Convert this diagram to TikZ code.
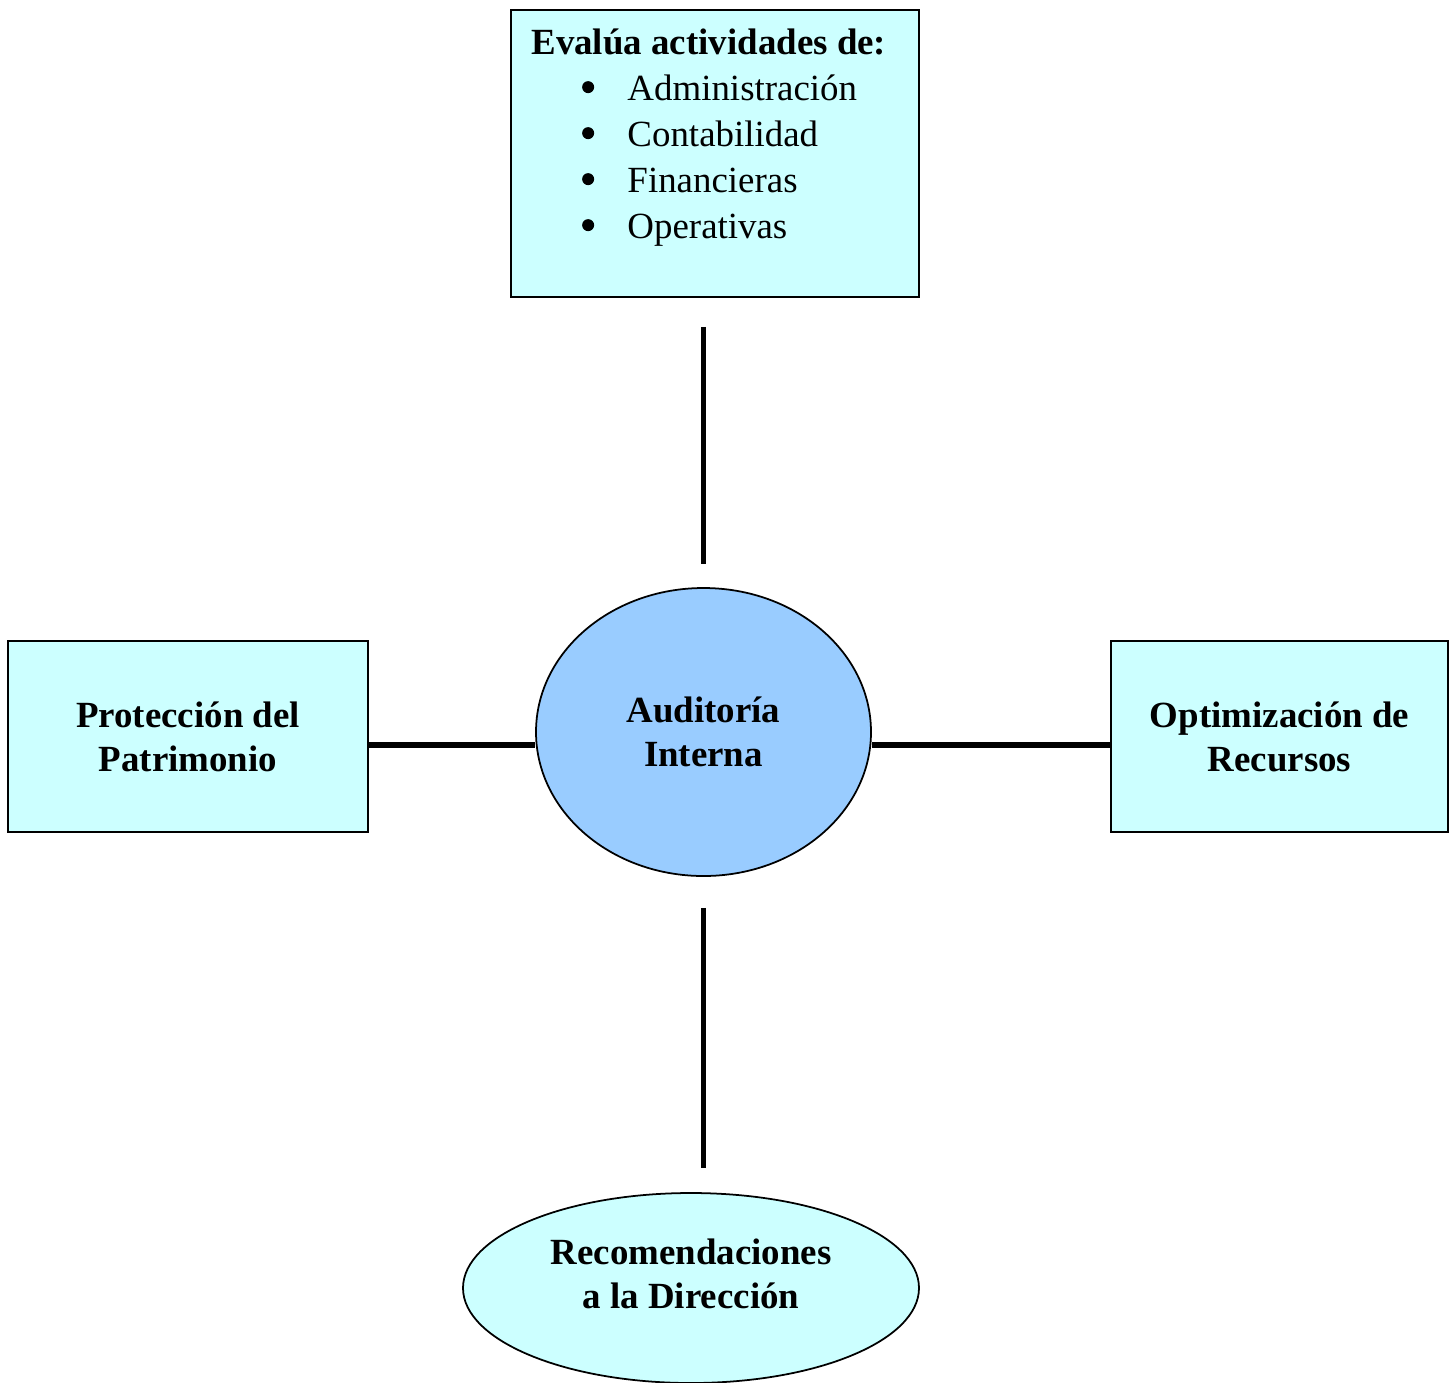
\documentclass[tikz,border=0pt]{standalone}
\usepackage{fontspec}
\setmainfont{Liberation Serif}
\usetikzlibrary{shapes.geometric,positioning,calc}
\definecolor{paleblue}{HTML}{CCFFFF}
\definecolor{midblue}{HTML}{99CCFF}
\newcommand{\labelfont}{\fontsize{21}{25}\selectfont\bfseries}
\tikzset{
block/.style = {draw, fill=paleblue, rectangle, line width=1pt, align=center, font=\labelfont},
hub/.style = {draw, fill=midblue, ellipse, line width=1pt, align=center, font=\labelfont},
goal/.style = {draw, fill=paleblue, ellipse, line width=1pt, align=center, font=\labelfont},
dot/.style = {fill=black, circle, inner sep=0pt, minimum size=0.24cm},
link/.style = {line width=3pt},
}

\begin{document}
\begin{tikzpicture}[font=\fontsize{21}{26}\selectfont]
  \useasboundingbox (0,0) rectangle (29.1,-27.64);
  \node [block, minimum width=8.16cm, minimum height=5.74cm] (evalua) at (14.3,-3.07) {};
  \node [anchor=base west, inner sep=0pt] (evaluahdr) at ([xshift=0.42cm,yshift=-0.9cm]evalua.north west) {\textbf{Evalúa actividades de:}};
  \foreach \t [count=\i] in {Administración, Contabilidad, Financieras, Operativas} {
    \node [anchor=base west, inner sep=0pt] (item\i) at ([xshift=2.34cm,yshift={-0.9cm-0.92cm*\i}]evalua.north west) {\t};
    \node [dot] (bullet\i) at ([xshift=1.56cm,yshift={-0.64cm-0.92cm*\i}]evalua.north west) {};
  }
  \node [hub, minimum width=6.7cm, minimum height=5.76cm] (auditoria) at (14.07,-14.64) {Auditoría\\Interna};
  \node [block, minimum width=7.2cm, minimum height=3.82cm] (patrimonio) at (3.76,-14.73) {Protección del\\Patrimonio};
  \node [block, minimum width=6.74cm, minimum height=3.82cm] (recursos) at (25.59,-14.73) {Optimización de\\Recursos};
  \node [goal, minimum width=9.12cm, minimum height=3.8cm, inner sep=0pt] (direccion) at (13.82,-25.76) {};
  \node [align=center, font=\labelfont] (direcciontxt) at ([yshift=0.28cm]direccion.center) {Recomendaciones\\a la Dirección};

  % connectors
  \draw [link, shorten <=0.58cm, shorten >=0.46cm] (auditoria.north |- evalua.south) -- (auditoria.north);
  \draw [link, shorten <=0.62cm, shorten >=0.48cm] (auditoria.south) -- (auditoria.south |- direccion.north);
  \draw [link] ([yshift=-0.17cm]patrimonio.east) -- ([yshift=-0.17cm]patrimonio.east -| auditoria.west);
  \draw [link] ([yshift=-0.17cm]recursos.west) -- ([yshift=-0.17cm]recursos.west -| auditoria.east);
\end{tikzpicture}
\end{document}
